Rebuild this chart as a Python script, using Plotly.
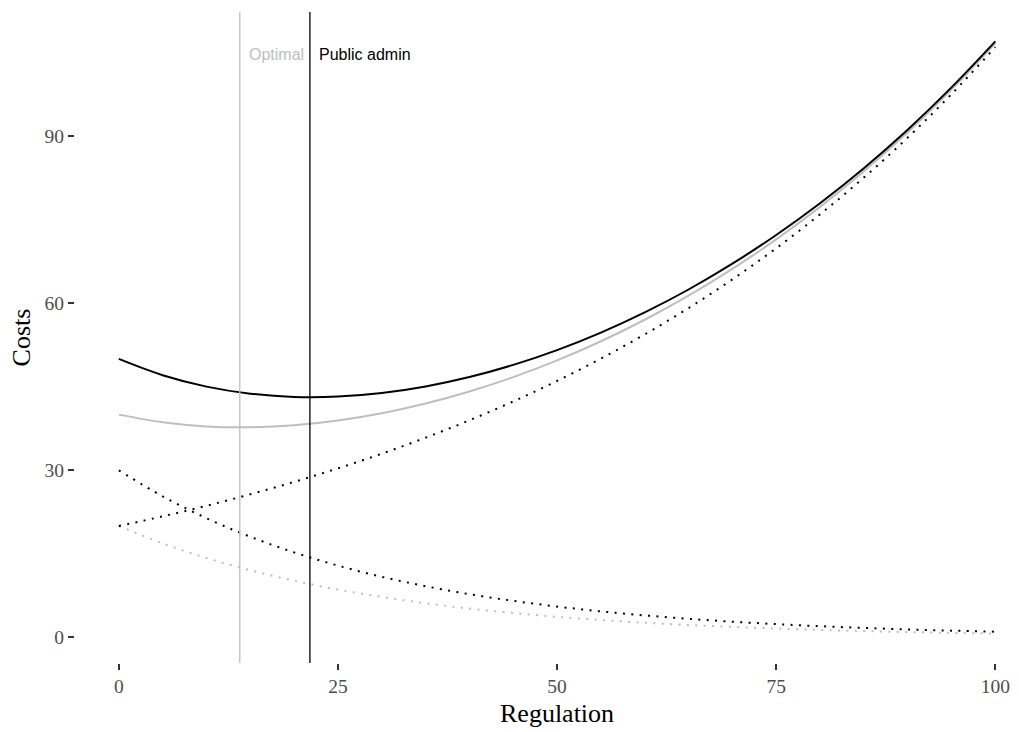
import plotly.graph_objects as go

# Regulation levels
regulation = [0, 5, 10, 15, 20, 25, 30, 35, 40, 45, 50, 55, 60, 65, 70, 75, 80, 85, 90, 95, 100]

# Cost of regulation (black dotted, increasing)
reg_cost = [20.0, 21.74, 23.63, 25.69, 27.92, 30.35, 32.99, 35.86, 38.98, 42.37, 46.05,
            50.06, 54.41, 59.14, 64.29, 69.88, 75.96, 82.56, 89.74, 97.55, 106.0]
# Harm costs, public admin view (black dotted, decreasing)
harm_admin = [30.0, 25.33, 21.40, 18.07, 15.26, 12.89, 10.88, 9.19, 7.76, 6.56, 5.54,
              4.67, 3.95, 3.33, 2.82, 2.38, 2.01, 1.70, 1.43, 1.21, 1.02]
# Harm costs, optimal (grey dotted, decreasing)
harm_opt = [20.0, 16.89, 14.26, 12.05, 10.17, 8.59, 7.26, 6.13, 5.17, 4.37, 3.69,
            3.12, 2.63, 2.22, 1.88, 1.59, 1.34, 1.13, 0.95, 0.81, 0.68]
# Total costs, public admin view (black solid)
total_admin = [50.0, 47.07, 45.03, 43.76, 43.18, 43.24, 43.87, 45.05, 46.74, 48.93, 51.59,
               54.73, 58.36, 62.47, 67.11, 72.26, 77.97, 84.26, 91.17, 98.76, 107.02]
# Total costs, optimal (grey solid)
total_opt = [40.0, 38.63, 37.89, 37.74, 38.09, 38.94, 40.25, 41.99, 44.15, 46.74, 49.74,
             53.18, 57.04, 61.36, 66.17, 71.47, 77.30, 83.69, 90.69, 98.36, 106.68]

# Minimum points (vertical lines)
optimal_x = 13.8
admin_x = 21.8
line_labels = ["Optimal", "Public admin"]

x_ticks = [0, 25, 50, 75, 100]
y_ticks = [0, 30, 60, 90]
x_title = "Regulation"
y_title = "Costs"

GREY = "#BEBEBE"
BLACK = "#000000"
DOT = "2px,6.4px"

fig = go.Figure()

def add(y, color, dash, width):
    fig.add_trace(go.Scatter(x=regulation, y=y, mode="lines",
                             line=dict(color=color, dash=dash, width=width, shape="spline"),
                             showlegend=False, hoverinfo="skip"))

add(harm_opt, GREY, DOT, 2)
add(harm_admin, BLACK, DOT, 2)
add(reg_cost, BLACK, DOT, 2)
add(total_opt, GREY, "solid", 2)
add(total_admin, BLACK, "solid", 2)

for xv, col, lab in [(optimal_x, GREY, line_labels[0]), (admin_x, BLACK, line_labels[1])]:
    fig.add_shape(type="line", xref="x", yref="paper", x0=xv, x1=xv, y0=0, y1=1,
                  line=dict(color=col, width=1.3))
    fig.add_annotation(x=xv, y=104.7, xref="x", yref="y", text=lab, showarrow=False,
                       xanchor="left", yanchor="middle", xshift=7,
                       font=dict(family="Liberation Sans, Arial, sans-serif", size=16, color=col))

tickfont = dict(family="Liberation Serif, Times New Roman, serif", size=19.5, color="#4D4D4D")
titlefont = dict(family="Liberation Serif, Times New Roman, serif", size=26, color="#000000")

# x-axis title centred on the full panel (ggplot panel extends beyond the visible frame)
fig.add_annotation(x=50, y=0, xref="x", yref="paper", yshift=-50, text=x_title,
                   showarrow=False, xanchor="center", yanchor="middle", font=titlefont)

fig.update_layout(
    width=1019, height=732,
    margin=dict(l=75, r=0, t=12, b=69),
    paper_bgcolor="white", plot_bgcolor="white",
    xaxis=dict(range=[-5, 102.7], tickvals=x_ticks, ticktext=[str(v) for v in x_ticks],
               showgrid=False, zeroline=False, showline=False,
               ticks="outside", ticklen=6, tickwidth=1.5, tickcolor="#333333",
               tickfont=tickfont),
    yaxis=dict(range=[-4.6, 112.3], tickvals=y_ticks, ticktext=[str(v) for v in y_ticks],
               showgrid=False, zeroline=False, showline=False,
               ticks="outside", ticklen=6, tickwidth=1.5, tickcolor="#333333",
               tickfont=tickfont, title=dict(text=y_title, font=titlefont, standoff=6)),
)

fig.write_html("out.html", config={"displayModeBar": False},
               post_script="document.body.style.margin='0';")
